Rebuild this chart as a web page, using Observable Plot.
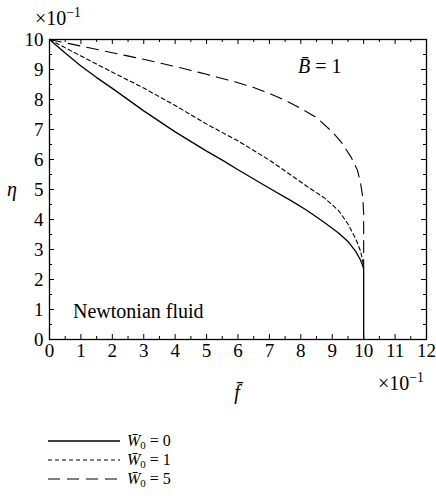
<!DOCTYPE html>
<html><head><meta charset="utf-8">
<script src="https://cdn.jsdelivr.net/npm/d3@7"></script>
<script src="https://cdn.jsdelivr.net/npm/@observablehq/plot@0.6"></script>
<style>body{margin:0;background:#fff;} svg{display:block}</style>
</head><body><div id="chart"></div>
<script>
// W0 = 0 (solid)
const fbarW0 = [0, 0.5, 1, 1.5, 2, 3, 4, 5, 5.5, 6, 7, 7.7, 8.2, 8.75, 9.2, 9.5, 9.75, 9.9, 9.97, 10, 10];
const etaW0  = [10, 9.55, 9.12, 8.73, 8.37, 7.62, 6.92, 6.28, 5.98, 5.66, 5.04, 4.62, 4.3, 3.9, 3.55, 3.27, 2.93, 2.65, 2.46, 2.36, 0];
// W0 = 1 (short dash)
const fbarW1 = [0, 1, 2, 3, 4, 5, 6, 7, 7.7, 8.2, 8.75, 9.2, 9.5, 9.75, 9.9, 9.97, 10];
const etaW1  = [10, 9.45, 8.91, 8.38, 7.8, 7.18, 6.62, 5.98, 5.47, 5.1, 4.72, 4.3, 3.85, 3.35, 2.95, 2.62, 2.4];
// W0 = 5 (long dash)
const fbarW5 = [0, 1, 2, 3, 4, 5, 6, 6.5, 7, 7.5, 8, 8.5, 9, 9.3, 9.6, 9.8, 9.9, 9.97, 10, 10];
const etaW5  = [10, 9.78, 9.56, 9.34, 9.1, 8.84, 8.56, 8.4, 8.2, 7.97, 7.7, 7.4, 6.92, 6.56, 6.08, 5.65, 5.22, 4.75, 4.2, 2.4];

const seriesNames = ["0", "1", "5"];
const xTicks = [0,1,2,3,4,5,6,7,8,9,10,11,12];
const yTicks = [0,1,2,3,4,5,6,7,8,9,10];
const xMinor = [0.5,1.5,2.5,3.5,4.5,5.5,6.5,7.5,8.5,9.5,10.5,11.5];
const yMinor = [0.5,1.5,2.5,3.5,4.5,5.5,6.5,7.5,8.5,9.5];

const toRows = (xs, ys, k) => xs.map((x, i) => ({x, y: ys[i], k}));
const rows0 = toRows(fbarW0, etaW0, seriesNames[0]);
const rows1 = toRows(fbarW1, etaW1, seriesNames[1]);
const rows5 = toRows(fbarW5, etaW5, seriesNames[2]);

const FONT = '"Liberation Serif","Times New Roman",Tinos,Times,"DejaVu Serif","Noto Serif",serif';
const W = 436, H = 501, mL = 49, mR = 10, mT = 39, mB = 162;
const iw = W - mL - mR, ih = H - mT - mB;
const dashes = [null, "4,3", "12,7"];

const plot = Plot.plot({
  width: W, height: H,
  marginLeft: mL, marginRight: mR, marginTop: mT, marginBottom: mB,
  style: {fontFamily: FONT, fontSize: "19px", color: "#000", background: "#fff", overflow: "visible"},
  x: {domain: [0, 12], axis: null},
  y: {domain: [0, 10], axis: null},
  marks: [
    Plot.line(rows5, {x: "x", y: "y", stroke: "#000", strokeWidth: 1.1, strokeDasharray: dashes[2]}),
    Plot.line(rows1, {x: "x", y: "y", stroke: "#000", strokeWidth: 1.1, strokeDasharray: dashes[1]}),
    Plot.line(rows0, {x: "x", y: "y", stroke: "#000", strokeWidth: 1.3}),
    Plot.tickX(xTicks, {x: d => d, insetTop: ih - 5, stroke: "#000"}),
    Plot.tickX(xTicks, {x: d => d, insetBottom: ih - 5, stroke: "#000"}),
    Plot.tickX(xMinor, {x: d => d, insetTop: ih - 3, stroke: "#000"}),
    Plot.tickX(xMinor, {x: d => d, insetBottom: ih - 3, stroke: "#000"}),
    Plot.tickY(yTicks, {y: d => d, insetRight: iw - 5, stroke: "#000"}),
    Plot.tickY(yTicks, {y: d => d, insetLeft: iw - 5, stroke: "#000"}),
    Plot.tickY(yMinor, {y: d => d, insetRight: iw - 3, stroke: "#000"}),
    Plot.tickY(yMinor, {y: d => d, insetLeft: iw - 3, stroke: "#000"}),
    Plot.text(xTicks, {x: d => d, frameAnchor: "bottom", lineAnchor: "top", dy: 4, text: d => String(d), fill: "#000"}),
    Plot.text(yTicks, {y: d => d, frameAnchor: "left", textAnchor: "end", dx: -6, text: d => String(d), fill: "#000"}),
    Plot.frame({stroke: "#000", strokeWidth: 1.3})
  ]
});

document.getElementById("chart").appendChild(plot);
const svg = d3.select(plot);

function addText(x, y, parts, size = 20, anchor = "start") {
  const t = svg.append("text").attr("x", x).attr("y", y)
    .attr("font-family", FONT).attr("font-size", size).attr("fill", "#000")
    .attr("text-anchor", anchor);
  for (const p of parts) {
    const s = t.append("tspan").text(p.t);
    if (p.i) s.attr("font-style", "italic");
    if (p.sup) s.attr("font-size", size * 0.68).attr("dy", -size * 0.42);
    if (p.sub) s.attr("font-size", size * 0.68).attr("dy", size * 0.2);
    if (p.reset) s.attr("dy", p.reset);
  }
  return t;
}

addText(35, 25, [{t: "×10"}, {t: "−1", sup: true}], 20);
addText(378, 390, [{t: "×10"}, {t: "−1", sup: true}], 20);
addText(12, 196, [{t: "η", i: true}], 20, "middle");
addText(237, 399, [{t: "f\u0304", i: true}], 20, "middle");
addText(298, 73, [{t: "B\u0304", i: true}, {t: " = 1"}], 20);
addText(73, 318, [{t: "Newtonian fluid"}], 20);

const legY = [441, 460, 479];
seriesNames.forEach((n, i) => {
  const ln = svg.append("line").attr("x1", 48).attr("x2", 120)
    .attr("y1", legY[i]).attr("y2", legY[i])
    .attr("stroke", "#000").attr("stroke-width", i === 0 ? 1.3 : 1.1);
  if (dashes[i]) ln.attr("stroke-dasharray", dashes[i]);
  addText(127, legY[i] + 5, [{t: "W\u0304", i: true}, {t: "0", sub: true}, {t: " = " + n, reset: -16 * 0.2}], 16);
});
</script>
</body></html>
